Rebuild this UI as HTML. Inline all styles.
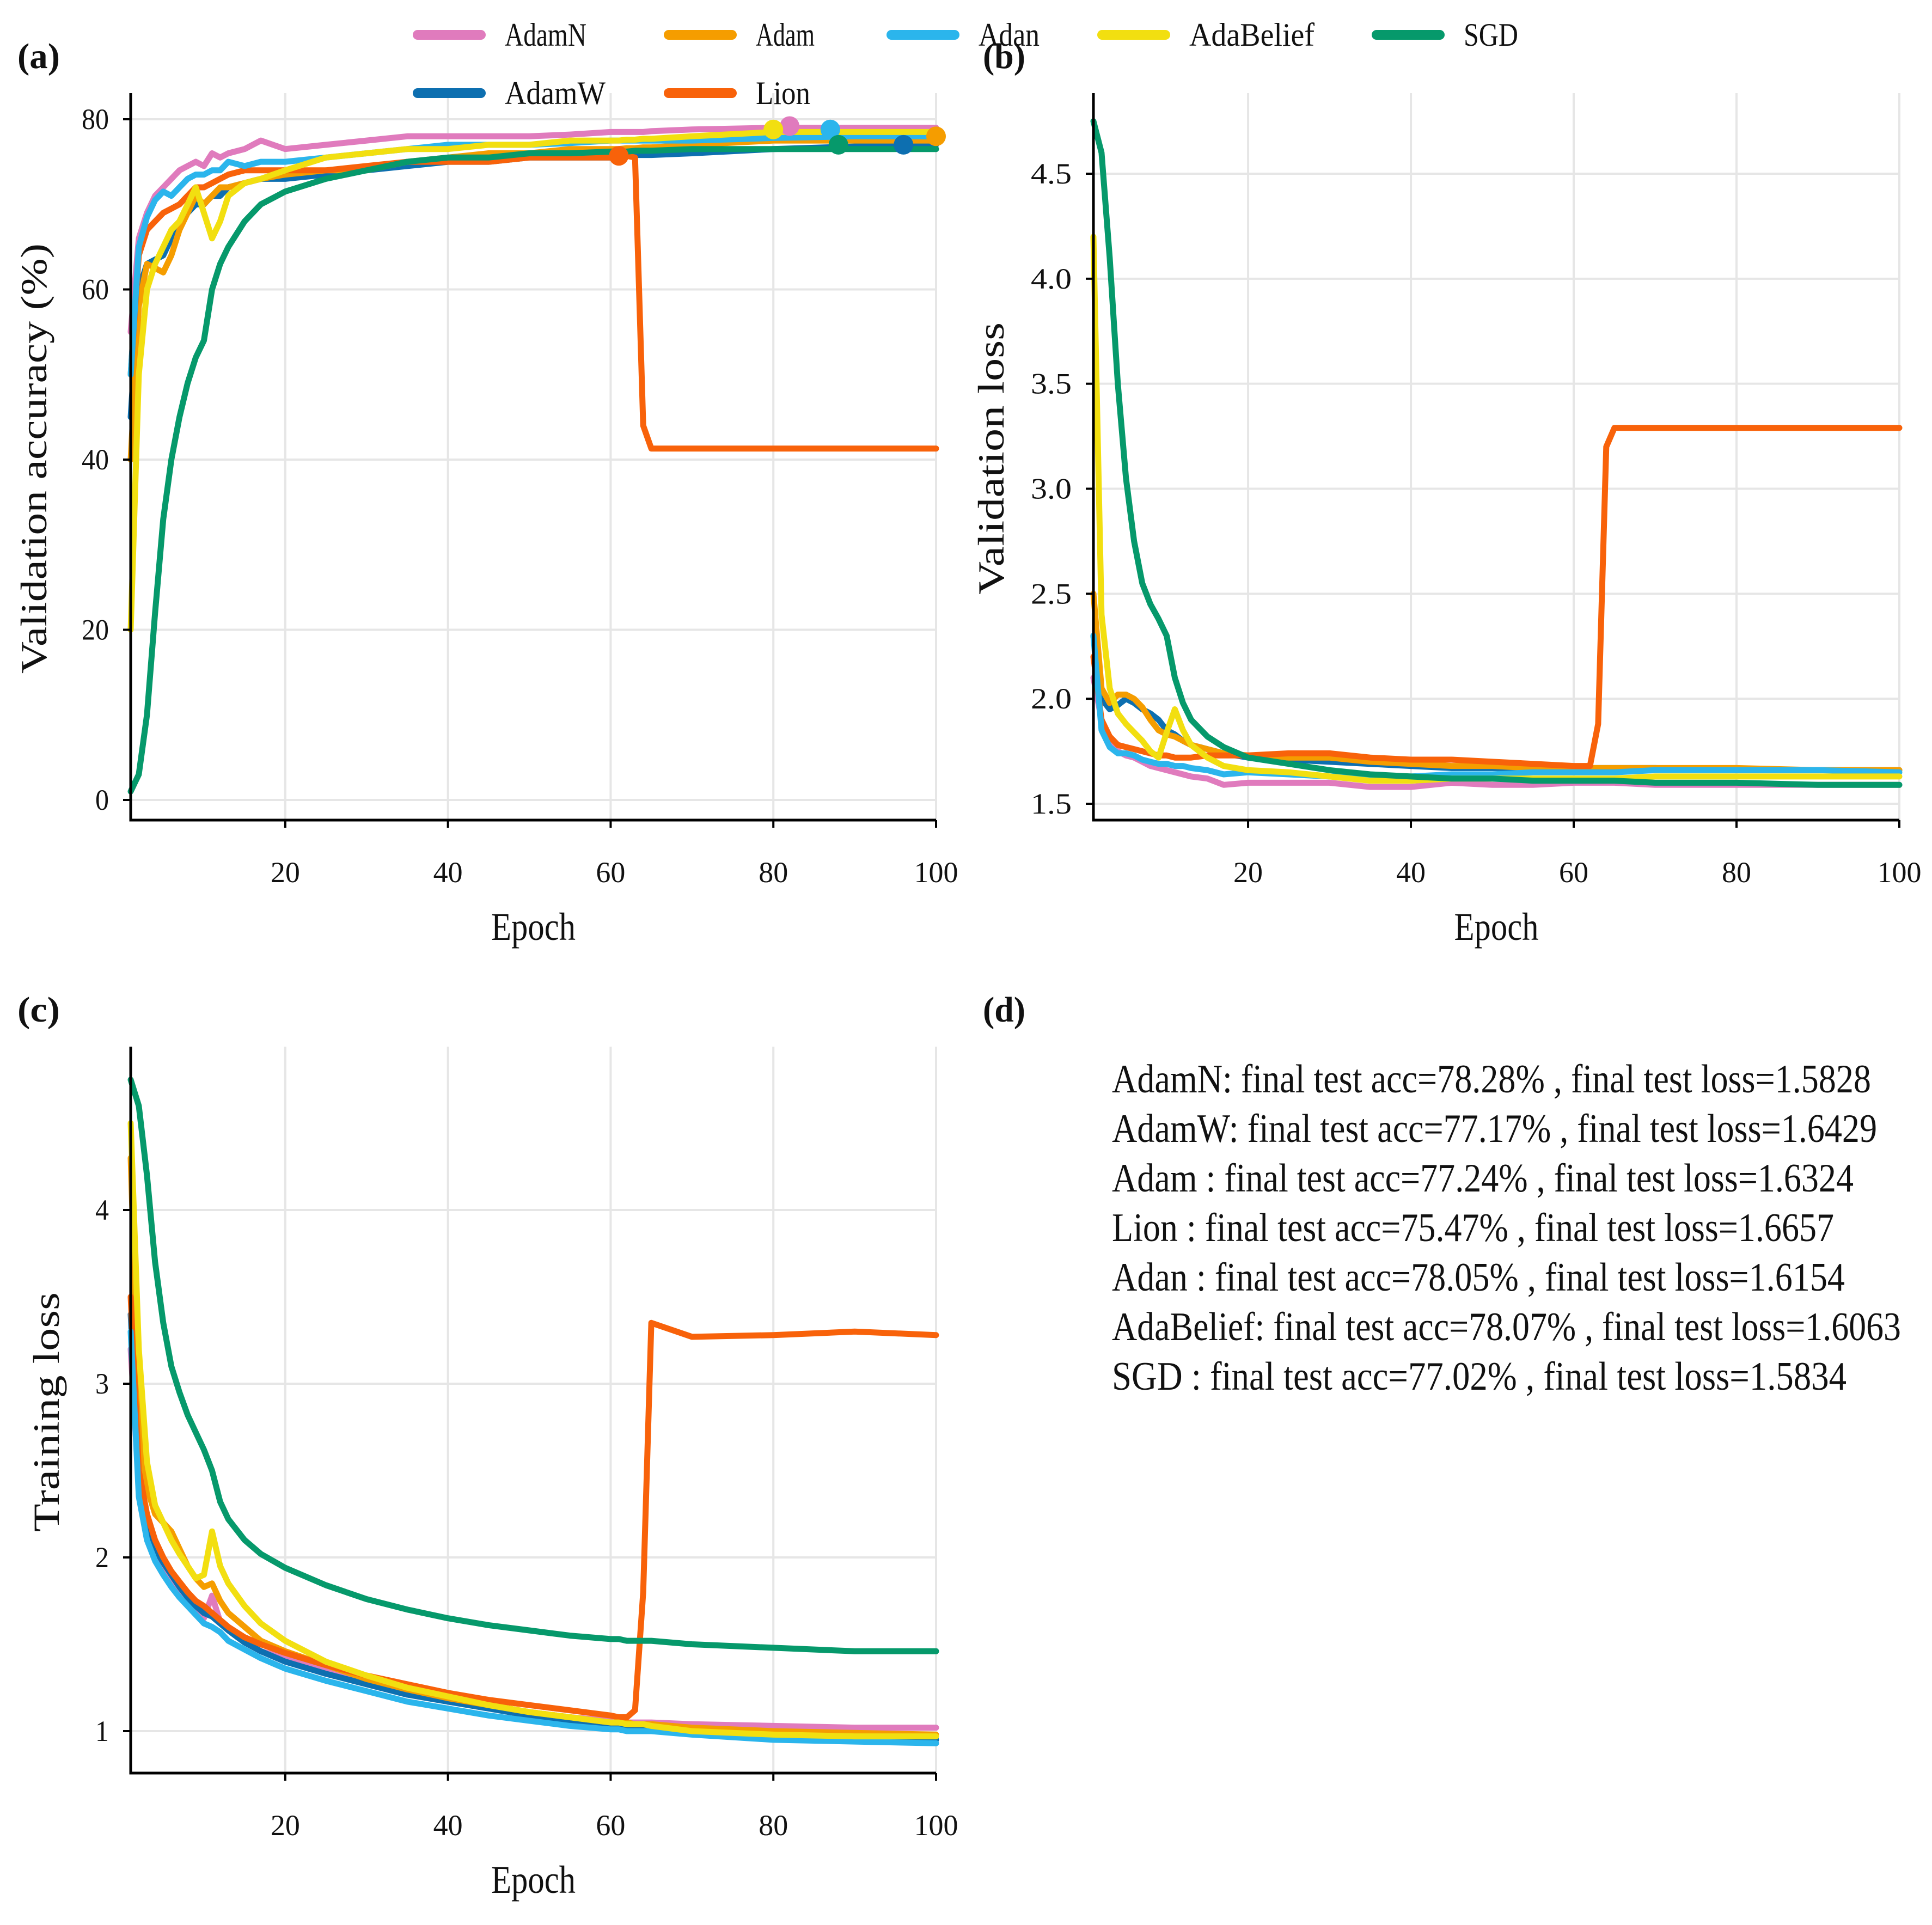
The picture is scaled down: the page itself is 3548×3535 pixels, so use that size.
<!DOCTYPE html>
<html><head><meta charset="utf-8"><style>
html,body{margin:0;padding:0;background:#fff;}
svg{display:block;}
text{font-family:"Liberation Serif",serif;fill:#111;}
</style></head><body>
<svg id="fig" width="3548" height="3535" viewBox="0 0 3548 3535" xmlns="http://www.w3.org/2000/svg">
<rect width="3548" height="3535" fill="#fff"/>
</svg>
<script>
const names = ["AdamN","AdamW","Adam","Lion","Adan","AdaBelief","SGD"];
const colors = ["#e07bbd","#0d6fb0","#f59d00","#f8620a","#2bb5ec","#f2df10","#06996b"];
const epochs = [1,2,3,4,5,6,7,8,9,10,11,12,13,15,17,20,25,30,35,40,45,50,55,60,61,62,63,64,65,70,80,90,100];

// (a) validation accuracy
const accAdamN = [55,66,69,71,72,73,74,74.5,75,74.5,76,75.5,76,76.5,77.5,76.5,77,77.5,78,78,78,78,78.2,78.5,78.5,78.5,78.5,78.5,78.6,78.8,79,79,79];
const accAdamW = [45,60,63,63.5,64,66,68,69,70,70,71,71,72,72.5,73,73,73.5,74,74.5,75,75,75.5,75.5,75.5,75.8,75.8,75.8,75.8,75.8,76,76.5,76.8,77];
const accAdam = [40,58,63,62.5,62,64,67,69,71,70,71,72,72,72.5,73,73.5,74,74,75,75.5,76,76,76.5,76.5,76.5,76.6,76.6,76.7,76.7,77,77.5,77.5,77.5];
const accLion = [50,64,67,68,69,69.5,70,71,72,72,72.5,73,73.5,74,74,74,74,74.5,75,75,75,75.5,75.5,75.5,75.7,75.7,75.5,44,41.3,41.3,41.3,41.3,41.3];
const accAdan = [50,65,68.5,70.5,71.5,71,72,73,73.5,73.5,74,74,75,74.5,75,75,75.5,76,76.5,77,77,77,77.2,77.5,77.5,77.5,77.5,77.5,77.5,77.5,77.8,78,78];
const accAdaBelief = [20,50,60,63,65,67,68,70,72,69,66,68,71,72.5,73,74,75.5,76,76.5,76.5,77,77,77.5,77.5,77.5,77.6,77.6,77.7,77.7,78,78.5,78.5,78.5];
const accSGD = [1,3,10,22,33,40,45,49,52,54,60,63,65,68,70,71.5,73,74,75,75.5,75.5,76,76,76.2,76.2,76.2,76.3,76.3,76.3,76.5,76.5,76.5,76.5];
const bestEpoch = [82,96,100,61,87,80,88];
const bestAcc = [79.2,77,78,75.7,78.8,78.8,77];

// (b) validation loss
const vlAdamN = [2.1,1.9,1.8,1.75,1.73,1.72,1.7,1.68,1.67,1.66,1.65,1.64,1.63,1.62,1.59,1.6,1.6,1.6,1.58,1.58,1.6,1.59,1.59,1.6,1.6,1.6,1.6,1.6,1.6,1.59,1.59,1.59,1.59];
const vlAdamW = [2.3,2.0,1.95,1.97,2.0,1.98,1.95,1.93,1.9,1.85,1.83,1.8,1.78,1.76,1.74,1.72,1.71,1.7,1.69,1.68,1.67,1.67,1.67,1.67,1.67,1.67,1.67,1.67,1.67,1.67,1.66,1.66,1.66];
const vlAdam = [2.5,2.05,1.98,2.02,2.02,2.0,1.96,1.9,1.85,1.83,1.82,1.8,1.78,1.76,1.74,1.73,1.72,1.72,1.7,1.69,1.68,1.68,1.67,1.67,1.67,1.67,1.67,1.67,1.67,1.67,1.67,1.66,1.66];
const vlLion = [2.2,1.9,1.82,1.78,1.77,1.76,1.75,1.74,1.73,1.73,1.72,1.72,1.72,1.73,1.73,1.73,1.74,1.74,1.72,1.71,1.71,1.7,1.69,1.68,1.68,1.68,1.88,3.2,3.29,3.29,3.29,3.29,3.29];
const vlAdan = [2.3,1.85,1.77,1.74,1.74,1.73,1.71,1.7,1.69,1.69,1.68,1.68,1.67,1.66,1.64,1.65,1.64,1.63,1.63,1.63,1.64,1.64,1.65,1.65,1.65,1.65,1.65,1.65,1.65,1.66,1.66,1.66,1.65];
const vlAdaBelief = [4.2,2.4,2.05,1.93,1.88,1.84,1.8,1.75,1.72,1.84,1.95,1.85,1.78,1.72,1.68,1.66,1.65,1.63,1.61,1.61,1.62,1.62,1.62,1.62,1.62,1.62,1.62,1.62,1.62,1.63,1.63,1.63,1.63];
const vlSGD = [4.75,4.6,4.1,3.5,3.05,2.75,2.55,2.45,2.38,2.3,2.1,1.98,1.9,1.82,1.77,1.72,1.69,1.66,1.64,1.63,1.62,1.62,1.61,1.61,1.61,1.61,1.61,1.61,1.61,1.6,1.6,1.59,1.59];

// (c) training loss
const tlAdamN = [3.2,2.4,2.15,2.02,1.95,1.88,1.82,1.76,1.7,1.65,1.78,1.63,1.58,1.52,1.46,1.42,1.35,1.28,1.22,1.18,1.14,1.11,1.08,1.06,1.06,1.05,1.05,1.05,1.05,1.04,1.03,1.02,1.02];
const tlAdamW = [3.4,2.5,2.2,2.05,1.97,1.9,1.83,1.77,1.72,1.68,1.66,1.62,1.58,1.51,1.46,1.4,1.33,1.27,1.21,1.17,1.13,1.09,1.06,1.03,1.03,1.03,1.02,1.02,1.02,1.0,0.97,0.96,0.95];
const tlAdam = [4.3,2.8,2.4,2.25,2.2,2.15,2.05,1.95,1.88,1.83,1.85,1.75,1.68,1.6,1.52,1.46,1.38,1.3,1.24,1.19,1.15,1.11,1.08,1.05,1.05,1.05,1.04,1.04,1.04,1.02,1.0,0.99,0.98];
const tlLion = [3.5,2.5,2.25,2.1,2.0,1.92,1.86,1.8,1.75,1.72,1.68,1.64,1.6,1.54,1.5,1.45,1.38,1.32,1.27,1.22,1.18,1.15,1.12,1.09,1.08,1.08,1.12,1.8,3.35,3.27,3.28,3.3,3.28];
const tlAdan = [3.3,2.35,2.1,1.98,1.9,1.83,1.77,1.72,1.67,1.62,1.6,1.57,1.52,1.47,1.42,1.36,1.29,1.23,1.17,1.13,1.09,1.06,1.03,1.01,1.01,1.0,1.0,1.0,1.0,0.98,0.95,0.94,0.93];
const tlAdaBelief = [4.5,3.2,2.55,2.3,2.2,2.1,2.02,1.95,1.88,1.9,2.15,1.95,1.85,1.72,1.62,1.52,1.4,1.32,1.25,1.2,1.15,1.11,1.08,1.05,1.05,1.04,1.04,1.04,1.03,1.0,0.98,0.97,0.97];
const tlSGD = [4.75,4.6,4.2,3.7,3.35,3.1,2.95,2.82,2.72,2.62,2.5,2.32,2.22,2.1,2.02,1.94,1.84,1.76,1.7,1.65,1.61,1.58,1.55,1.53,1.53,1.52,1.52,1.52,1.52,1.5,1.48,1.46,1.46];

const xTicks = [20,40,60,80,100];
const accTicks = [0,20,40,60,80];
const vlTicks = [1.5,2.0,2.5,3.0,3.5,4.0,4.5];
const vlTickLabels = ["1.5","2.0","2.5","3.0","3.5","4.0","4.5"];
const tlTicks = [1,2,3,4];
const summaryLines = [
 "AdamN: final test acc=78.28% , final test loss=1.5828",
 "AdamW: final test acc=77.17% , final test loss=1.6429",
 "Adam : final test acc=77.24% , final test loss=1.6324",
 "Lion : final test acc=75.47% , final test loss=1.6657",
 "Adan : final test acc=78.05% , final test loss=1.6154",
 "AdaBelief: final test acc=78.07% , final test loss=1.6063",
 "SGD  : final test acc=77.02% , final test loss=1.5834"];
const summaryWidths = [1394,1405,1362,1326,1346,1449,1349];

const NS = "http://www.w3.org/2000/svg";
const svg = document.getElementById("fig");
function mk(tag, attrs, parent){
  const e = document.createElementNS(NS, tag);
  for (const k in attrs) e.setAttribute(k, attrs[k]);
  (parent||svg).appendChild(e);
  return e;
}
function txt(s, attrs, parent){ const e = mk("text", attrs, parent); e.textContent = s; return e; }

function panel(cfg){
  const g = mk("g", {});
  
  
  const X = v => cfg.x0 + (v-1)/(99)*(cfg.x1-cfg.x0);
  const Y = v => cfg.yA + (v-cfg.vA)/(cfg.vB-cfg.vA)*(cfg.yB-cfg.yA);
  // grid
  xTicks.forEach(t=>{
    const l = mk("line",{x1:X(t),x2:X(t),y1:cfg.top,y2:cfg.bottom,stroke:"#e6e6e6","stroke-width":4},g);
    
    
  });
  cfg.yTicks.forEach(t=>{
    const l = mk("line",{x1:cfg.x0,x2:cfg.x1,y1:Y(t),y2:Y(t),stroke:"#e6e6e6","stroke-width":4},g);
    
    
  });
  // series
  cfg.series.forEach((vals,i)=>{
    let d = "";
    vals.forEach((v,j)=>{ d += (j?"L":"M")+X(epochs[j]).toFixed(1)+","+Y(v).toFixed(1); });
    const p = mk("path",{d:d,fill:"none",stroke:colors[i],"stroke-width":11,"stroke-linejoin":"round","stroke-linecap":"round"},g);
    
    
  });
  if (cfg.markers){
    bestEpoch.forEach((e,i)=>{
      const c = mk("circle",{cx:X(e),cy:Y(bestAcc[i]),r:18,fill:colors[i]},g);
      
      
    });
  }
  // axes
  const ax = mk("path",{d:`M${cfg.x0},${cfg.top}V${cfg.bottom}H${cfg.x1}`,fill:"none",stroke:"#000","stroke-width":5},g);
  
  
  xTicks.forEach(t=>{
    mk("line",{x1:X(t),x2:X(t),y1:cfg.bottom,y2:cfg.bottom+14,stroke:"#000","stroke-width":4},g);
    const tl = txt(String(t),{x:X(t),y:cfg.bottom+114,"text-anchor":"middle","font-size":54,textLength:String(t).length*27,lengthAdjust:"spacingAndGlyphs"},g);
    
    
  });
  cfg.yTicks.forEach((t,k)=>{
    mk("line",{x1:cfg.x0-14,x2:cfg.x0,y1:Y(t),y2:Y(t),stroke:"#000","stroke-width":4},g);
    const s = cfg.yLabels[k];
    const tl = txt(s,{x:cfg.x0-40,y:Y(t)+18,"text-anchor":"end","font-size":54,textLength:s.length*25,lengthAdjust:"spacingAndGlyphs"},g);
    
    
  });
  const xl = txt("Epoch",{x:(cfg.x0+cfg.x1)/2,y:cfg.bottom+220,"text-anchor":"middle","font-size":72,textLength:155,lengthAdjust:"spacingAndGlyphs"},g);
  
  
  const yl = txt(cfg.ylabel,{x:0,y:0,"text-anchor":"middle","font-size":68,textLength:cfg.ylen,lengthAdjust:"spacingAndGlyphs",transform:`translate(${cfg.ylx},${cfg.yly}) rotate(-90)`},g);
  
  
  const pl = txt(cfg.tag,{x:cfg.tagx,y:cfg.tagy,"font-size":66,"font-weight":"bold",textLength:78,lengthAdjust:"spacingAndGlyphs"},g);
  
  
}

panel({name:"panel-a-validation-accuracy",x0:240,x1:1719,top:171,bottom:1506,yA:1469,vA:0,yB:219,vB:80,
  yTicks:accTicks,yLabels:accTicks.map(String),series:[accAdamN,accAdamW,accAdam,accLion,accAdan,accAdaBelief,accSGD],
  markers:true,ylabel:"Validation accuracy (%)",ylen:790,ylx:85,yly:842,tag:"(a)",tagx:32,tagy:125});
panel({name:"panel-b-validation-loss",x0:2008,x1:3488,top:171,bottom:1506,yA:1476,vA:1.5,yB:319,vB:4.5,
  yTicks:vlTicks,yLabels:vlTickLabels,series:[vlAdamN,vlAdamW,vlAdam,vlLion,vlAdan,vlAdaBelief,vlSGD],
  ylabel:"Validation loss",ylen:500,ylx:1843,yly:842,tag:"(b)",tagx:1805,tagy:125});
panel({name:"panel-c-training-loss",x0:240,x1:1719,top:1922,bottom:3256,yA:3179,vA:1,yB:2222,vB:4,
  yTicks:tlTicks,yLabels:tlTicks.map(String),series:[tlAdamN,tlAdamW,tlAdam,tlLion,tlAdan,tlAdaBelief,tlSGD],
  ylabel:"Training loss",ylen:440,ylx:108,yly:2593,tag:"(c)",tagx:32,tagy:1876});

// panel d
const pd = txt("(d)",{x:1805,y:1876,"font-size":66,"font-weight":"bold",textLength:78,lengthAdjust:"spacingAndGlyphs"});


summaryLines.forEach((s,i)=>{
  const t = txt(s,{x:2042,y:2006+i*91,"font-size":74,textLength:summaryWidths[i],lengthAdjust:"spacingAndGlyphs","xml:space":"preserve"});
  
  
});

// legend
const legendX = [767,1228,1637,2024,2528,767,1228];
const legendY = [64,64,64,64,64,171,171];
const legendOrder = [0,2,4,5,6,1,3];
const legendW = [92,86,80,210,100,110,76];
legendOrder.forEach((si,k)=>{
  const g = mk("g",{});
  
  
  mk("line",{x1:legendX[k],x2:legendX[k]+116,y1:legendY[k],y2:legendY[k],stroke:colors[si],"stroke-width":18,"stroke-linecap":"round"},g);
  txt(names[si],{x:legendX[k]+160,y:legendY[k]+20,"font-size":60,textLength:[150,108,112,230,100,185,100][k],lengthAdjust:"spacingAndGlyphs"},g);
});
</script>
</body></html>
